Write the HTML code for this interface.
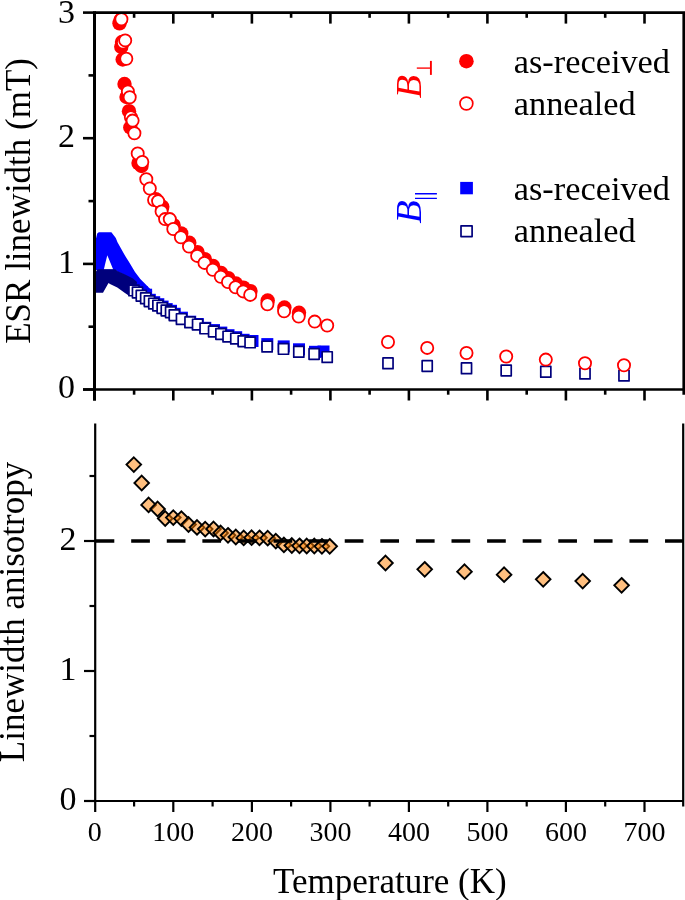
<!DOCTYPE html>
<html><head><meta charset="utf-8"><style>html,body{margin:0;padding:0;background:#fff;width:685px;height:900px;overflow:hidden}
svg text{font-family:"Liberation Serif",serif}</style></head>
<body>
<svg width="685" height="900" viewBox="0 0 685 900" style="position:absolute;left:0;top:0;will-change:transform">
<rect width="685" height="900" fill="#fff"/>
<defs><clipPath id="cpt"><rect x="94.6" y="12.7" width="589" height="377.1"/></clipPath></defs>
<g clip-path="url(#cpt)">
<path d="M96,238.5 L97.2,233.4 L98.8,232.3 L111.4,232.3 L115.8,237.9 L117.5,242.3 L121,248.4 L125.4,256.3 L129.8,263.3 L135,272 L140.3,279 L143.8,282.6 L149,287.8 L152.6,291.3 L140,291 L134.1,281.6 L124.6,275 L117.3,271.4 L115.2,270 L96,270 Z" fill="#0000ff"/>
<path d="M107.3,255.3 L103.8,269.5 L113.2,269.5 Z" fill="#fff"/>
<rect x="128.4" y="280.8" width="12.0" height="12.0" fill="#0000ff"/>
<rect x="131.9" y="282.9" width="12.0" height="12.0" fill="#0000ff"/>
<rect x="135.7" y="286.1" width="12.0" height="12.0" fill="#0000ff"/>
<rect x="140.1" y="288.7" width="12.0" height="12.0" fill="#0000ff"/>
<rect x="143.8" y="293.8" width="12.0" height="12.0" fill="#0000ff"/>
<rect x="148.2" y="296.2" width="12.0" height="12.0" fill="#0000ff"/>
<rect x="152.3" y="298.2" width="12.0" height="12.0" fill="#0000ff"/>
<rect x="156.6" y="300.6" width="12.0" height="12.0" fill="#0000ff"/>
<rect x="160.7" y="303.1" width="12.0" height="12.0" fill="#0000ff"/>
<rect x="165.0" y="304.8" width="12.0" height="12.0" fill="#0000ff"/>
<rect x="168.7" y="307.8" width="12.0" height="12.0" fill="#0000ff"/>
<rect x="175.9" y="311.7" width="12.0" height="12.0" fill="#0000ff"/>
<rect x="184.2" y="315.7" width="12.0" height="12.0" fill="#0000ff"/>
<rect x="191.8" y="318.0" width="12.0" height="12.0" fill="#0000ff"/>
<rect x="199.3" y="321.8" width="12.0" height="12.0" fill="#0000ff"/>
<rect x="208.0" y="324.1" width="12.0" height="12.0" fill="#0000ff"/>
<rect x="215.3" y="326.6" width="12.0" height="12.0" fill="#0000ff"/>
<rect x="222.5" y="329.2" width="12.0" height="12.0" fill="#0000ff"/>
<rect x="230.2" y="331.2" width="12.0" height="12.0" fill="#0000ff"/>
<rect x="237.6" y="333.8" width="12.0" height="12.0" fill="#0000ff"/>
<rect x="246.5" y="335.0" width="12.0" height="12.0" fill="#0000ff"/>
<rect x="261.3" y="338.1" width="12.0" height="12.0" fill="#0000ff"/>
<rect x="277.7" y="340.4" width="12.0" height="12.0" fill="#0000ff"/>
<rect x="293.0" y="343.3" width="12.0" height="12.0" fill="#0000ff"/>
<rect x="309.0" y="345.8" width="12.0" height="12.0" fill="#0000ff"/>
<rect x="317.5" y="345.5" width="12.0" height="12.0" fill="#0000ff"/>
<path d="M96,271.5 L97,269.8 L99,269.2 L115.2,269.2 L117.3,271 L124.6,274.2 L133,278.5 L137,282 L136,290 L129,295.8 L124.6,292.8 L117.3,287.6 L110,284 L108.5,283 L103,292.8 L96,292.8 Z" fill="#00007c"/>
<rect x="128.95" y="285.05" width="10.1" height="10.7" fill="#fff" stroke="#00007c" stroke-width="1.7" stroke-linejoin="round"/>
<rect x="132.45" y="287.15" width="10.1" height="10.7" fill="#fff" stroke="#00007c" stroke-width="1.7" stroke-linejoin="round"/>
<rect x="136.25" y="290.35" width="10.1" height="10.7" fill="#fff" stroke="#00007c" stroke-width="1.7" stroke-linejoin="round"/>
<rect x="140.65" y="292.95" width="10.1" height="10.7" fill="#fff" stroke="#00007c" stroke-width="1.7" stroke-linejoin="round"/>
<rect x="144.35" y="295.85" width="10.1" height="10.7" fill="#fff" stroke="#00007c" stroke-width="1.7" stroke-linejoin="round"/>
<rect x="148.75" y="298.25" width="10.1" height="10.7" fill="#fff" stroke="#00007c" stroke-width="1.7" stroke-linejoin="round"/>
<rect x="152.85" y="300.25" width="10.1" height="10.7" fill="#fff" stroke="#00007c" stroke-width="1.7" stroke-linejoin="round"/>
<rect x="157.15" y="302.65" width="10.1" height="10.7" fill="#fff" stroke="#00007c" stroke-width="1.7" stroke-linejoin="round"/>
<rect x="161.25" y="305.15" width="10.1" height="10.7" fill="#fff" stroke="#00007c" stroke-width="1.7" stroke-linejoin="round"/>
<rect x="165.55" y="306.85" width="10.1" height="10.7" fill="#fff" stroke="#00007c" stroke-width="1.7" stroke-linejoin="round"/>
<rect x="169.25" y="309.85" width="10.1" height="10.7" fill="#fff" stroke="#00007c" stroke-width="1.7" stroke-linejoin="round"/>
<rect x="176.45" y="313.75" width="10.1" height="10.7" fill="#fff" stroke="#00007c" stroke-width="1.7" stroke-linejoin="round"/>
<rect x="184.95" y="316.95" width="10.1" height="10.7" fill="#fff" stroke="#00007c" stroke-width="1.7" stroke-linejoin="round"/>
<rect x="192.55" y="319.25" width="10.1" height="10.7" fill="#fff" stroke="#00007c" stroke-width="1.7" stroke-linejoin="round"/>
<rect x="200.05" y="323.05" width="10.1" height="10.7" fill="#fff" stroke="#00007c" stroke-width="1.7" stroke-linejoin="round"/>
<rect x="208.55" y="326.15" width="10.1" height="10.7" fill="#fff" stroke="#00007c" stroke-width="1.7" stroke-linejoin="round"/>
<rect x="215.85" y="328.65" width="10.1" height="10.7" fill="#fff" stroke="#00007c" stroke-width="1.7" stroke-linejoin="round"/>
<rect x="223.05" y="331.25" width="10.1" height="10.7" fill="#fff" stroke="#00007c" stroke-width="1.7" stroke-linejoin="round"/>
<rect x="230.75" y="333.25" width="10.1" height="10.7" fill="#fff" stroke="#00007c" stroke-width="1.7" stroke-linejoin="round"/>
<rect x="238.15" y="335.85" width="10.1" height="10.7" fill="#fff" stroke="#00007c" stroke-width="1.7" stroke-linejoin="round"/>
<rect x="245.05" y="337.05" width="10.1" height="10.7" fill="#fff" stroke="#00007c" stroke-width="1.7" stroke-linejoin="round"/>
<rect x="262.05" y="341.25" width="10.1" height="10.7" fill="#fff" stroke="#00007c" stroke-width="1.7" stroke-linejoin="round"/>
<rect x="278.45" y="343.55" width="10.1" height="10.7" fill="#fff" stroke="#00007c" stroke-width="1.7" stroke-linejoin="round"/>
<rect x="293.75" y="346.45" width="10.1" height="10.7" fill="#fff" stroke="#00007c" stroke-width="1.7" stroke-linejoin="round"/>
<rect x="309.05" y="348.65" width="10.1" height="10.7" fill="#fff" stroke="#00007c" stroke-width="1.7" stroke-linejoin="round"/>
<rect x="322.15" y="351.75" width="10.1" height="10.7" fill="#fff" stroke="#00007c" stroke-width="1.7" stroke-linejoin="round"/>
<rect x="382.95" y="357.95" width="10.1" height="10.7" fill="#fff" stroke="#00007c" stroke-width="1.7" stroke-linejoin="round"/>
<rect x="422.15" y="360.65" width="10.1" height="10.7" fill="#fff" stroke="#00007c" stroke-width="1.7" stroke-linejoin="round"/>
<rect x="461.45" y="362.95" width="10.1" height="10.7" fill="#fff" stroke="#00007c" stroke-width="1.7" stroke-linejoin="round"/>
<rect x="501.15" y="365.15" width="10.1" height="10.7" fill="#fff" stroke="#00007c" stroke-width="1.7" stroke-linejoin="round"/>
<rect x="540.75" y="366.45" width="10.1" height="10.7" fill="#fff" stroke="#00007c" stroke-width="1.7" stroke-linejoin="round"/>
<rect x="579.95" y="368.25" width="10.1" height="10.7" fill="#fff" stroke="#00007c" stroke-width="1.7" stroke-linejoin="round"/>
<rect x="618.95" y="370.25" width="10.1" height="10.7" fill="#fff" stroke="#00007c" stroke-width="1.7" stroke-linejoin="round"/>
<circle cx="120.5" cy="20.0" r="7.2" fill="#ff0000"/>
<circle cx="119.5" cy="23.3" r="7.2" fill="#ff0000"/>
<circle cx="122.0" cy="42.0" r="7.2" fill="#ff0000"/>
<circle cx="121.3" cy="46.8" r="7.2" fill="#ff0000"/>
<circle cx="122.7" cy="59.5" r="7.2" fill="#ff0000"/>
<circle cx="124.5" cy="84.0" r="7.2" fill="#ff0000"/>
<circle cx="126.5" cy="97.0" r="7.2" fill="#ff0000"/>
<circle cx="129.0" cy="111.2" r="7.2" fill="#ff0000"/>
<circle cx="130.3" cy="127.5" r="7.2" fill="#ff0000"/>
<circle cx="138.5" cy="163.1" r="7.2" fill="#ff0000"/>
<circle cx="141.5" cy="166.0" r="7.2" fill="#ff0000"/>
<circle cx="155.8" cy="199.2" r="7.2" fill="#ff0000"/>
<circle cx="162.3" cy="206.8" r="7.2" fill="#ff0000"/>
<circle cx="173.6" cy="225.2" r="7.2" fill="#ff0000"/>
<circle cx="181.2" cy="233.4" r="7.2" fill="#ff0000"/>
<circle cx="189.3" cy="242.8" r="7.2" fill="#ff0000"/>
<circle cx="197.5" cy="252.1" r="7.2" fill="#ff0000"/>
<circle cx="204.8" cy="259.1" r="7.2" fill="#ff0000"/>
<circle cx="213.1" cy="266.0" r="7.2" fill="#ff0000"/>
<circle cx="221.1" cy="273.0" r="7.2" fill="#ff0000"/>
<circle cx="228.3" cy="278.2" r="7.2" fill="#ff0000"/>
<circle cx="235.9" cy="283.5" r="7.2" fill="#ff0000"/>
<circle cx="243.5" cy="287.6" r="7.2" fill="#ff0000"/>
<circle cx="250.5" cy="291.1" r="7.2" fill="#ff0000"/>
<circle cx="267.7" cy="300.5" r="7.2" fill="#ff0000"/>
<circle cx="284.4" cy="307.5" r="7.2" fill="#ff0000"/>
<circle cx="299.0" cy="312.8" r="7.2" fill="#ff0000"/>
<circle cx="121.4" cy="19.2" r="6.1" fill="#fff" stroke="#ff0000" stroke-width="1.8"/>
<circle cx="123" cy="42.5" r="6.1" fill="#fff" stroke="#ff0000" stroke-width="1.8"/>
<circle cx="125.2" cy="40.4" r="6.1" fill="#fff" stroke="#ff0000" stroke-width="1.8"/>
<circle cx="126.3" cy="58.8" r="6.1" fill="#fff" stroke="#ff0000" stroke-width="1.8"/>
<circle cx="127.9" cy="91.5" r="6.1" fill="#fff" stroke="#ff0000" stroke-width="1.8"/>
<circle cx="129.7" cy="97.2" r="6.1" fill="#fff" stroke="#ff0000" stroke-width="1.8"/>
<circle cx="130.9" cy="117.3" r="6.1" fill="#fff" stroke="#ff0000" stroke-width="1.8"/>
<circle cx="132.6" cy="120.6" r="6.1" fill="#fff" stroke="#ff0000" stroke-width="1.8"/>
<circle cx="134.4" cy="133.3" r="6.1" fill="#fff" stroke="#ff0000" stroke-width="1.8"/>
<circle cx="137.7" cy="153.5" r="6.1" fill="#fff" stroke="#ff0000" stroke-width="1.8"/>
<circle cx="142.3" cy="161.9" r="6.1" fill="#fff" stroke="#ff0000" stroke-width="1.8"/>
<circle cx="146.3" cy="179.3" r="6.1" fill="#fff" stroke="#ff0000" stroke-width="1.8"/>
<circle cx="149.8" cy="188.5" r="6.1" fill="#fff" stroke="#ff0000" stroke-width="1.8"/>
<circle cx="154.1" cy="200" r="6.1" fill="#fff" stroke="#ff0000" stroke-width="1.8"/>
<circle cx="158.1" cy="201.1" r="6.1" fill="#fff" stroke="#ff0000" stroke-width="1.8"/>
<circle cx="161.6" cy="211.5" r="6.1" fill="#fff" stroke="#ff0000" stroke-width="1.8"/>
<circle cx="165.1" cy="219.1" r="6.1" fill="#fff" stroke="#ff0000" stroke-width="1.8"/>
<circle cx="169.8" cy="219.1" r="6.1" fill="#fff" stroke="#ff0000" stroke-width="1.8"/>
<circle cx="173.3" cy="229" r="6.1" fill="#fff" stroke="#ff0000" stroke-width="1.8"/>
<circle cx="180.9" cy="237.2" r="6.1" fill="#fff" stroke="#ff0000" stroke-width="1.8"/>
<circle cx="189" cy="246.6" r="6.1" fill="#fff" stroke="#ff0000" stroke-width="1.8"/>
<circle cx="197.2" cy="255.9" r="6.1" fill="#fff" stroke="#ff0000" stroke-width="1.8"/>
<circle cx="204.5" cy="262.9" r="6.1" fill="#fff" stroke="#ff0000" stroke-width="1.8"/>
<circle cx="212.8" cy="269.8" r="6.1" fill="#fff" stroke="#ff0000" stroke-width="1.8"/>
<circle cx="220.8" cy="276.8" r="6.1" fill="#fff" stroke="#ff0000" stroke-width="1.8"/>
<circle cx="228" cy="282" r="6.1" fill="#fff" stroke="#ff0000" stroke-width="1.8"/>
<circle cx="235.6" cy="287.3" r="6.1" fill="#fff" stroke="#ff0000" stroke-width="1.8"/>
<circle cx="243.2" cy="291.4" r="6.1" fill="#fff" stroke="#ff0000" stroke-width="1.8"/>
<circle cx="250.2" cy="294.9" r="6.1" fill="#fff" stroke="#ff0000" stroke-width="1.8"/>
<circle cx="267.4" cy="304.3" r="6.1" fill="#fff" stroke="#ff0000" stroke-width="1.8"/>
<circle cx="284.1" cy="311.3" r="6.1" fill="#fff" stroke="#ff0000" stroke-width="1.8"/>
<circle cx="298.7" cy="316.6" r="6.1" fill="#fff" stroke="#ff0000" stroke-width="1.8"/>
<circle cx="314.7" cy="321.6" r="6.1" fill="#fff" stroke="#ff0000" stroke-width="1.8"/>
<circle cx="327.2" cy="325.5" r="6.1" fill="#fff" stroke="#ff0000" stroke-width="1.8"/>
<circle cx="388" cy="342" r="6.1" fill="#fff" stroke="#ff0000" stroke-width="1.8"/>
<circle cx="427.2" cy="347.9" r="6.1" fill="#fff" stroke="#ff0000" stroke-width="1.8"/>
<circle cx="466.5" cy="353" r="6.1" fill="#fff" stroke="#ff0000" stroke-width="1.8"/>
<circle cx="506.2" cy="356.5" r="6.1" fill="#fff" stroke="#ff0000" stroke-width="1.8"/>
<circle cx="545.8" cy="359.6" r="6.1" fill="#fff" stroke="#ff0000" stroke-width="1.8"/>
<circle cx="585" cy="363.2" r="6.1" fill="#fff" stroke="#ff0000" stroke-width="1.8"/>
<circle cx="624" cy="365.3" r="6.1" fill="#fff" stroke="#ff0000" stroke-width="1.8"/>
</g>
<g stroke="#000" stroke-width="2.6" fill="none" stroke-linecap="butt">
<path d="M94.8,12.610000000000014 H683.7 V394.8"/>
<path d="M94.5,11.310000000000013 V400.8" stroke-width="3"/>
<path d="M83,389.5 H683.7"/>
<path d="M83,389.5 H94.8"/>
<path d="M83,263.9 H94.8"/>
<path d="M83,138.2 H94.8"/>
<path d="M83,12.6 H94.8"/>
<path d="M88.5,326.7 H94.8"/>
<path d="M88.5,201.1 H94.8"/>
<path d="M88.5,75.4 H94.8"/>
<path d="M134.1,389.5 V394.7"/>
<path d="M134.1,12.610000000000014 V17.8"/>
<path d="M173.3,389.5 V400.5"/>
<path d="M173.3,12.610000000000014 V23.6"/>
<path d="M212.6,389.5 V394.7"/>
<path d="M212.6,12.610000000000014 V17.8"/>
<path d="M251.9,389.5 V400.5"/>
<path d="M251.9,12.610000000000014 V23.6"/>
<path d="M291.1,389.5 V394.7"/>
<path d="M291.1,12.610000000000014 V17.8"/>
<path d="M330.4,389.5 V400.5"/>
<path d="M330.4,12.610000000000014 V23.6"/>
<path d="M369.6,389.5 V394.7"/>
<path d="M369.6,12.610000000000014 V17.8"/>
<path d="M408.9,389.5 V400.5"/>
<path d="M408.9,12.610000000000014 V23.6"/>
<path d="M448.2,389.5 V394.7"/>
<path d="M448.2,12.610000000000014 V17.8"/>
<path d="M487.4,389.5 V400.5"/>
<path d="M487.4,12.610000000000014 V23.6"/>
<path d="M526.7,389.5 V394.7"/>
<path d="M526.7,12.610000000000014 V17.8"/>
<path d="M565.9,389.5 V400.5"/>
<path d="M565.9,12.610000000000014 V23.6"/>
<path d="M605.2,389.5 V394.7"/>
<path d="M605.2,12.610000000000014 V17.8"/>
<path d="M644.5,389.5 V400.5"/>
<path d="M644.5,12.610000000000014 V23.6"/>
</g>
<g stroke="#000" stroke-width="2.2" fill="none">
<path d="M95.2,423.5 V812"/>
<path d="M683.2,423.5 V806.5"/>
<path d="M84,801.0 H683.2"/>
<path d="M84,801.0 H95.2"/>
<path d="M84,671.0 H95.2"/>
<path d="M84,541.0 H95.2"/>
<path d="M89.5,736.0 H95.2"/>
<path d="M89.5,606.0 H95.2"/>
<path d="M89.5,476.0 H95.2"/>
<path d="M134.1,801.0 V806.5"/>
<path d="M173.3,801.0 V812.0"/>
<path d="M212.6,801.0 V806.5"/>
<path d="M251.9,801.0 V812.0"/>
<path d="M291.1,801.0 V806.5"/>
<path d="M330.4,801.0 V812.0"/>
<path d="M369.6,801.0 V806.5"/>
<path d="M408.9,801.0 V812.0"/>
<path d="M448.2,801.0 V806.5"/>
<path d="M487.4,801.0 V812.0"/>
<path d="M526.7,801.0 V806.5"/>
<path d="M565.9,801.0 V812.0"/>
<path d="M605.2,801.0 V806.5"/>
<path d="M644.5,801.0 V812.0"/>
</g>
<path d="M133.8,457.3 L141.1,464.6 L133.8,471.9 L126.5,464.6 Z" fill="#ff8000" fill-opacity="0.5" stroke="#000" stroke-width="1.9" stroke-linejoin="miter"/>
<path d="M141.7,475.7 L149.0,483 L141.7,490.3 L134.4,483 Z" fill="#ff8000" fill-opacity="0.5" stroke="#000" stroke-width="1.9" stroke-linejoin="miter"/>
<path d="M148.6,497.6 L155.9,504.9 L148.6,512.2 L141.3,504.9 Z" fill="#ff8000" fill-opacity="0.5" stroke="#000" stroke-width="1.9" stroke-linejoin="miter"/>
<path d="M157.6,501.7 L164.9,509 L157.6,516.3 L150.3,509 Z" fill="#ff8000" fill-opacity="0.5" stroke="#000" stroke-width="1.9" stroke-linejoin="miter"/>
<path d="M165.2,511.2 L172.5,518.5 L165.2,525.8 L157.9,518.5 Z" fill="#ff8000" fill-opacity="0.5" stroke="#000" stroke-width="1.9" stroke-linejoin="miter"/>
<path d="M173.3,510.3 L180.6,517.6 L173.3,524.9 L166.0,517.6 Z" fill="#ff8000" fill-opacity="0.5" stroke="#000" stroke-width="1.9" stroke-linejoin="miter"/>
<path d="M181.4,511.3 L188.7,518.6 L181.4,525.9 L174.1,518.6 Z" fill="#ff8000" fill-opacity="0.5" stroke="#000" stroke-width="1.9" stroke-linejoin="miter"/>
<path d="M188.5,517.2 L195.8,524.5 L188.5,531.8 L181.2,524.5 Z" fill="#ff8000" fill-opacity="0.5" stroke="#000" stroke-width="1.9" stroke-linejoin="miter"/>
<path d="M197,520.1 L204.3,527.4 L197,534.7 L189.7,527.4 Z" fill="#ff8000" fill-opacity="0.5" stroke="#000" stroke-width="1.9" stroke-linejoin="miter"/>
<path d="M205.2,521.8 L212.5,529.1 L205.2,536.4 L197.9,529.1 Z" fill="#ff8000" fill-opacity="0.5" stroke="#000" stroke-width="1.9" stroke-linejoin="miter"/>
<path d="M213.5,521.7 L220.8,529 L213.5,536.3 L206.2,529 Z" fill="#ff8000" fill-opacity="0.5" stroke="#000" stroke-width="1.9" stroke-linejoin="miter"/>
<path d="M220.6,525.7 L227.9,533 L220.6,540.3 L213.3,533 Z" fill="#ff8000" fill-opacity="0.5" stroke="#000" stroke-width="1.9" stroke-linejoin="miter"/>
<path d="M228,528.0 L235.3,535.3 L228,542.6 L220.7,535.3 Z" fill="#ff8000" fill-opacity="0.5" stroke="#000" stroke-width="1.9" stroke-linejoin="miter"/>
<path d="M235.8,529.7 L243.1,537 L235.8,544.3 L228.5,537 Z" fill="#ff8000" fill-opacity="0.5" stroke="#000" stroke-width="1.9" stroke-linejoin="miter"/>
<path d="M243.7,530.6 L251.0,537.9 L243.7,545.2 L236.4,537.9 Z" fill="#ff8000" fill-opacity="0.5" stroke="#000" stroke-width="1.9" stroke-linejoin="miter"/>
<path d="M251.6,530.4 L258.9,537.7 L251.6,545.0 L244.3,537.7 Z" fill="#ff8000" fill-opacity="0.5" stroke="#000" stroke-width="1.9" stroke-linejoin="miter"/>
<path d="M259.5,530.5 L266.8,537.8 L259.5,545.1 L252.2,537.8 Z" fill="#ff8000" fill-opacity="0.5" stroke="#000" stroke-width="1.9" stroke-linejoin="miter"/>
<path d="M267.7,530.9 L275.0,538.2 L267.7,545.5 L260.4,538.2 Z" fill="#ff8000" fill-opacity="0.5" stroke="#000" stroke-width="1.9" stroke-linejoin="miter"/>
<path d="M275.8,533.8 L283.1,541.1 L275.8,548.4 L268.5,541.1 Z" fill="#ff8000" fill-opacity="0.5" stroke="#000" stroke-width="1.9" stroke-linejoin="miter"/>
<path d="M283.9,537.6 L291.2,544.9 L283.9,552.2 L276.6,544.9 Z" fill="#ff8000" fill-opacity="0.5" stroke="#000" stroke-width="1.9" stroke-linejoin="miter"/>
<path d="M291.8,538.2 L299.1,545.5 L291.8,552.8 L284.5,545.5 Z" fill="#ff8000" fill-opacity="0.5" stroke="#000" stroke-width="1.9" stroke-linejoin="miter"/>
<path d="M299.5,538.5 L306.8,545.8 L299.5,553.1 L292.2,545.8 Z" fill="#ff8000" fill-opacity="0.5" stroke="#000" stroke-width="1.9" stroke-linejoin="miter"/>
<path d="M306.7,538.7 L314.0,546 L306.7,553.3 L299.4,546 Z" fill="#ff8000" fill-opacity="0.5" stroke="#000" stroke-width="1.9" stroke-linejoin="miter"/>
<path d="M314.3,538.7 L321.6,546 L314.3,553.3 L307.0,546 Z" fill="#ff8000" fill-opacity="0.5" stroke="#000" stroke-width="1.9" stroke-linejoin="miter"/>
<path d="M321.9,539.0 L329.2,546.3 L321.9,553.6 L314.6,546.3 Z" fill="#ff8000" fill-opacity="0.5" stroke="#000" stroke-width="1.9" stroke-linejoin="miter"/>
<path d="M329.7,539.0 L337.0,546.3 L329.7,553.6 L322.4,546.3 Z" fill="#ff8000" fill-opacity="0.5" stroke="#000" stroke-width="1.9" stroke-linejoin="miter"/>
<path d="M385.5,555.7 L392.8,563 L385.5,570.3 L378.2,563 Z" fill="#ff8000" fill-opacity="0.5" stroke="#000" stroke-width="1.9" stroke-linejoin="miter"/>
<path d="M424.7,562.0 L432.0,569.3 L424.7,576.6 L417.4,569.3 Z" fill="#ff8000" fill-opacity="0.5" stroke="#000" stroke-width="1.9" stroke-linejoin="miter"/>
<path d="M464.5,564.4 L471.8,571.7 L464.5,579.0 L457.2,571.7 Z" fill="#ff8000" fill-opacity="0.5" stroke="#000" stroke-width="1.9" stroke-linejoin="miter"/>
<path d="M504.1,567.4 L511.4,574.7 L504.1,582.0 L496.8,574.7 Z" fill="#ff8000" fill-opacity="0.5" stroke="#000" stroke-width="1.9" stroke-linejoin="miter"/>
<path d="M543.2,572.0 L550.5,579.3 L543.2,586.6 L535.9,579.3 Z" fill="#ff8000" fill-opacity="0.5" stroke="#000" stroke-width="1.9" stroke-linejoin="miter"/>
<path d="M582.7,573.8 L590.0,581.1 L582.7,588.4 L575.4,581.1 Z" fill="#ff8000" fill-opacity="0.5" stroke="#000" stroke-width="1.9" stroke-linejoin="miter"/>
<path d="M621.6,578.0 L628.9,585.3 L621.6,592.6 L614.3,585.3 Z" fill="#ff8000" fill-opacity="0.5" stroke="#000" stroke-width="1.9" stroke-linejoin="miter"/>
<path d="M95.6,541.0 H683" stroke="#000" stroke-width="3.4" stroke-dasharray="18.7 16.89"/>
<g font-family="Liberation Serif" font-size="34" fill="#000" text-anchor="end">
<text x="75" y="398.4">0</text>
<text x="75" y="272.8">1</text>
<text x="75" y="147.1">2</text>
<text x="75" y="22.8">3</text>
<text x="76.4" y="810.4">0</text>
<text x="76.4" y="680.4">1</text>
<text x="76.4" y="550.4">2</text>
</g>
<g font-family="Liberation Serif" font-size="28" fill="#000" text-anchor="middle">
<text x="94.8" y="841.3">0</text>
<text x="173.3" y="841.3">100</text>
<text x="251.9" y="841.3">200</text>
<text x="330.4" y="841.3">300</text>
<text x="408.9" y="841.3">400</text>
<text x="487.4" y="841.3">500</text>
<text x="565.9" y="841.3">600</text>
<text x="644.5" y="841.3">700</text>
</g>
<text font-family="Liberation Serif" font-size="35" x="273" y="892.8">Temperature (K)</text>
<text font-family="Liberation Serif" font-size="35" transform="translate(30,343.8) rotate(-90)">ESR linewidth (mT)</text>
<text font-family="Liberation Serif" font-size="35" transform="translate(24.1,762.2) rotate(-90)">Linewidth anisotropy</text>
<g font-family="Liberation Serif" font-size="34.3" fill="#000">
<text x="513.8" y="73.3">as-received</text>
<text x="513.8" y="115">annealed</text>
<text x="513.8" y="200.3">as-received</text>
<text x="513.8" y="241.5">annealed</text>
</g>
<circle cx="466.4" cy="61.2" r="7.3" fill="#ff0000"/>
<circle cx="466.4" cy="103.5" r="6.4" fill="#fff" stroke="#ff0000" stroke-width="1.7"/>
<rect x="460.2" y="181.9" width="12.7" height="12.4" fill="#0000ff"/>
<rect x="461" y="225.8" width="11.1" height="10.8" fill="#fff" stroke="#00007c" stroke-width="1.7" stroke-linejoin="round"/>
<text font-family="Liberation Serif" font-style="italic" font-size="36" fill="#ff0000" transform="translate(421.4,98.2) rotate(-90) scale(1.06,1)">B</text>
<path d="M430.9,60.9 V74.9" stroke="#ff0000" stroke-width="1.9" fill="none"/>
<path d="M416.8,68.1 H430" stroke="#ff0000" stroke-width="1.35" fill="none"/>
<text font-family="Liberation Serif" font-style="italic" font-size="36" fill="#0000ff" transform="translate(420.8,223.4) rotate(-90) scale(1.06,1)">B</text>
<path d="M415,193.8 H436.9 M415,198.4 H436.9" stroke="#0000ff" stroke-width="1.4" fill="none"/>
</svg>
</body></html>
